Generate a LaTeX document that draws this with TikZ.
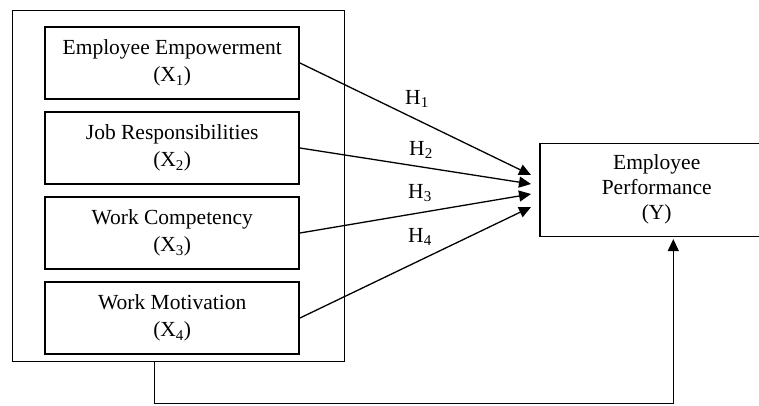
\documentclass[tikz,border=0pt]{standalone}
\usepackage{fontspec}
\setmainfont{Liberation Serif}
\usetikzlibrary{positioning}
\usetikzlibrary{arrows.meta}
\tikzstyle{varbox}=[rectangle,draw,line width=1.5pt,minimum width=254pt,minimum height=72pt,align=center,inner sep=0pt]
\tikzstyle{hyp}=[line width=1.3pt,-{Triangle[length=12pt,width=11pt]}]

\begin{document}
\begin{tikzpicture}[x=1pt,y=-1pt,font=\fontsize{21.5}{27.5}\selectfont]

	\clip (0,0) rectangle (759,405);
	\def\g{11.5pt}

	\node [draw, line width=1.5pt, minimum width=332pt, minimum height=351pt] (outer) at (178.6,186.2) {};

	\node [varbox] (x1) at (172.2,63) {Employee Empowerment\\(X\textsubscript{1})};
	\node [varbox, below = \g of x1] (x2) {Job Responsibilities\\(X\textsubscript{2})};
	\node [varbox, below = \g of x2] (x3) {Work Competency\\(X\textsubscript{3})};
	\node [varbox, below = \g of x3] (x4) {Work Motivation\\(X\textsubscript{4})};

	\node [varbox, minimum width=233pt, minimum height=93pt, font=\fontsize{21.5}{25}\selectfont] (perf) at (656.7,189.8) {Employee\\Performance\\(Y)};

	% arrow tips in front of perf
	\coordinate (t1) at (531,175);
	\coordinate (t2) at (531,184);
	\coordinate (t3) at (531,194);
	\coordinate (t4) at (531,207);

	\draw[hyp] (x1.east) -- (t1);
	\draw[hyp] (x2.east) -- (t2);
	\draw[hyp] (x3.east) -- (t3);
	\draw[hyp] (x4.east) -- (t4);

	\node (h1) at (417,99) {H\textsubscript{1}};
	\node (h2) at (421,150) {H\textsubscript{2}};
	\node (h3) at (420,193) {H\textsubscript{3}};
	\node (h4) at (420,237) {H\textsubscript{4}};

	% direct path below
	\coordinate (down) at (154.5,403.5);
	\coordinate (turn) at (673.3,403.5);
	\draw[hyp, shorten >=2pt] (outer.south -| down) -- (down) -- (turn) -- (perf.south -| turn);

\end{tikzpicture}
\end{document}
